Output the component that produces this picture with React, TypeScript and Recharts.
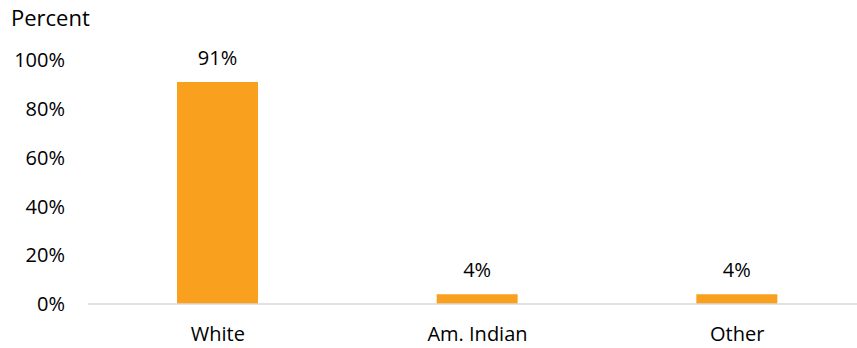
import { BarChart, Bar, XAxis, YAxis, LabelList } from 'recharts';

const categories = ['White', 'Am. Indian', 'Other'];
const percents = [91, 4, 4];
const yTicks = [0, 20, 40, 60, 80, 100];

const data = categories.map((name, i) => ({ name, value: percents[i] }));

const FONT = '"Open Sans", Calibri, sans-serif';

export default function App() {
  return (
    <div
      style={{
        position: 'absolute',
        left: 0,
        top: 0,
        width: 857,
        height: 348,
        overflow: 'hidden',
        background: '#fff',
        fontFamily: FONT,
      }}
    >
      <div
        style={{
          position: 'absolute',
          left: 11,
          top: 3,
          fontSize: 22,
          color: '#000',
          lineHeight: '28px',
        }}
      >
        Percent
      </div>
      <BarChart
        width={880}
        height={348}
        data={data}
        margin={{ top: 60, right: 13, bottom: 14, left: 8 }}
      >
        <XAxis
          dataKey="name"
          axisLine={{ stroke: '#d9d9d9', strokeWidth: 1.5 }}
          tickLine={false}
          tickSize={6}
          tickMargin={17}
          height={30}
          tick={{ fill: '#000', fontSize: 20, fontFamily: FONT }}
        />
        <YAxis
          domain={[0, 100]}
          ticks={yTicks}
          width={80}
          axisLine={false}
          tickLine={false}
          tickSize={6}
          tickMargin={17}
          tickFormatter={(v: number) => `${v}%`}
          tick={{ fill: '#000', fontSize: 20, fontFamily: FONT }}
        />
        <Bar dataKey="value" fill="#F9A11F" barSize={81} isAnimationActive={false}>
          <LabelList
            dataKey="value"
            position="top"
            offset={17}
            formatter={(v: number) => `${v}%`}
            style={{ fill: '#000', fontSize: 20, fontFamily: FONT }}
          />
        </Bar>
      </BarChart>
    </div>
  );
}
